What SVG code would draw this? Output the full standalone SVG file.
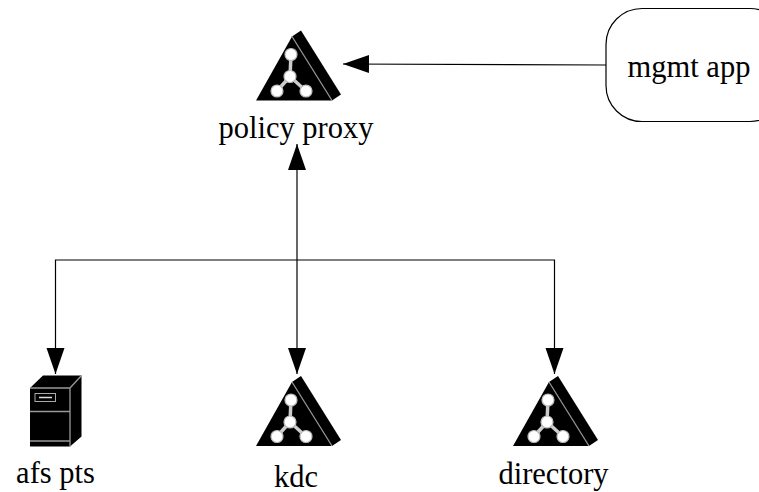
<svg xmlns="http://www.w3.org/2000/svg" width="759" height="492" viewBox="0 0 759 492">
<style>
.l{font-family:"Liberation Serif",serif;font-size:30.500px;fill:#000;text-anchor:middle}
.c{fill:none;stroke:#000;stroke-width:1.200}
.g{stroke:#999;stroke-width:1.300;fill:none}
.w{fill:#fff;stroke:#bbb;stroke-width:1.200}
.e{stroke:#ccc;stroke-width:3.500;fill:none}
</style>
<defs>
<marker id="a" markerUnits="userSpaceOnUse" markerWidth="28" markerHeight="20" refX="27" refY="9.500" orient="auto"><path d="M1 .5L27 9.500L1 18.500z" fill="#000"/></marker>
<g id="t">
<path d="M0 0L36 -64L45 -70L85 -6L76 0z" fill="#000"/>
<path class="g" d="M36 -64L76 0"/>
<path class="e" d="M35 -46L34 -24M34 -24L21 -9.500M34 -24L50 -9.500"/>
<circle class="w" cx="35" cy="-46" r="6"/><circle class="w" cx="34" cy="-24" r="6"/><circle class="w" cx="21" cy="-9.500" r="6"/><circle class="w" cx="50" cy="-9.500" r="6"/>
</g>
</defs>
<rect width="759" height="492" fill="#fff"/>
<g id="connectors">
<path class="c" d="M606 65L343 64" marker-end="url(#a)"/>
<path class="c" d="M297 260L297 144" marker-end="url(#a)"/>
<path class="c" d="M297 260L297 374" marker-end="url(#a)"/>
<path class="c" d="M297 260L55.500 260L55.500 374" marker-end="url(#a)"/>
<path class="c" d="M297 260L554.500 260L554.500 374" marker-end="url(#a)"/>
</g>
<g id="policy-proxy"><use href="#t" x="256" y="100.500"/><text class="l" x="296" y="138">policy proxy</text></g>
<g id="mgmt-app"><rect x="606" y="8.500" width="180" height="113" rx="36" ry="36" fill="#fff" stroke="#000" stroke-width="1.200"/><text class="l" x="689" y="77">mgmt app</text></g>
<g id="afs-pts">
<path d="M30 388L43 375.500L81.500 375.500L81.500 436.500L70 446.500L30 446.500z" fill="#000"/>
<path class="g" d="M30 388L70 388L81.500 375.500M70 388L70 446.500M30 411.500L70 411.500M30 441L70 441"/>
<rect x="35" y="393.500" width="20.500" height="8" fill="none" stroke="#aaa"/>
<path d="M39 397.500L52 397.500" stroke="#ddd" stroke-width="1.500"/>
<text class="l" x="55.500" y="482.500">afs pts</text></g>
<g id="kdc"><use href="#t" x="256" y="446"/><text class="l" x="296" y="486.500">kdc</text></g>
<g id="directory"><use href="#t" x="513" y="446"/><text class="l" x="553.500" y="484">directory</text></g>
</svg>
